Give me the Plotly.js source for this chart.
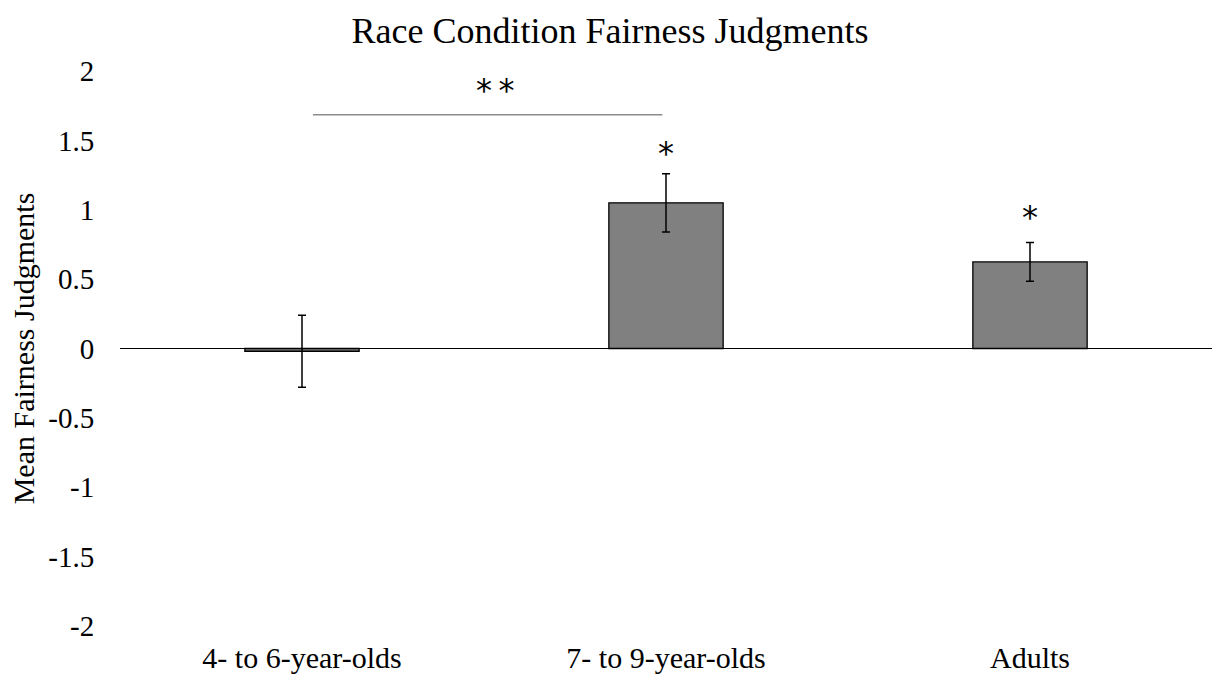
<!DOCTYPE html>
<html>
<head>
<meta charset="utf-8">
<script src="https://cdn.plot.ly/plotly-3.0.1.min.js"></script>
<style>html,body{margin:0;padding:0;background:#fff;}#chart{width:1220px;height:675px;}</style>
</head>
<body>
<div id="chart"></div>
<script>
const categories = ["4- to 6-year-olds", "7- to 9-year-olds", "Adults"];
const means = [-0.02, 1.05, 0.624];
const errors = [0.26, 0.21, 0.14];
const yTickVals = [2, 1.5, 1, 0.5, 0, -0.5, -1, -1.5, -2];
const yTickText = ["2", "1.5", "1", "0.5", "0", "-0.5", "-1", "-1.5", "-2"];
const sigMarks = ["", "*", "*"];
const sigY = [0, 1.41, 0.95];
const bracketFrom = 0.03, bracketTo = 0.99, bracketY = 1.684;
const bracketLabel = "*\u2009*", bracketLabelX = 0.53, bracketLabelY = 1.86;

const font = "Liberation Serif";
const starFont = {family: "DejaVu Sans", size: 32, color: "#000"};

const trace = {
  type: "bar",
  x: [0, 1, 2],
  y: means,
  width: 0.314,
  marker: {color: "#808080", line: {color: "#000", width: 1.3}},
  error_y: {type: "data", array: errors, visible: true, color: "#000", thickness: 1.5, width: 4},
  hoverinfo: "skip"
};

const annotations = [];
sigMarks.forEach((m, i) => {
  if (m) annotations.push({x: i, y: sigY[i], xref: "x", yref: "y", text: m, showarrow: false, font: starFont});
});
annotations.push({x: bracketLabelX, y: bracketLabelY, xref: "x", yref: "y", text: bracketLabel,
  showarrow: false, font: starFont});

const layout = {
  width: 1220, height: 675,
  margin: {l: 120, r: 8, t: 71, b: 49},
  paper_bgcolor: "#fff", plot_bgcolor: "#fff",
  showlegend: false,
  title: {text: "Race Condition Fairness Judgments", x: 0.5, xref: "container", y: 0.955, yref: "container",
    yanchor: "middle", font: {family: font, size: 36, color: "#000"}},
  xaxis: {
    range: [-0.5, 2.5], tickvals: [0, 1, 2], ticktext: categories,
    showline: false, showgrid: false, zeroline: false,
    ticks: "outside", ticklen: 5, tickcolor: "rgba(0,0,0,0)",
    tickfont: {family: font, size: 30, color: "#000"}
  },
  yaxis: {
    range: [-2, 2], tickvals: yTickVals, ticktext: yTickText,
    showline: false, showgrid: false, zeroline: true, zerolinecolor: "#000", zerolinewidth: 1.5,
    ticks: "outside", ticklen: 19, tickcolor: "rgba(0,0,0,0)",
    tickfont: {family: font, size: 29, color: "#000"},
    title: {text: "Mean Fairness Judgments", font: {family: font, size: 30, color: "#000"}, standoff: 4}
  },
  shapes: [{type: "line", xref: "x", yref: "y", x0: bracketFrom, x1: bracketTo, y0: bracketY, y1: bracketY,
    line: {color: "#8c8c8c", width: 1.5}}],
  annotations: annotations
};

Plotly.newPlot("chart", [trace], layout, {displayModeBar: false, staticPlot: true});
</script>
</body>
</html>
